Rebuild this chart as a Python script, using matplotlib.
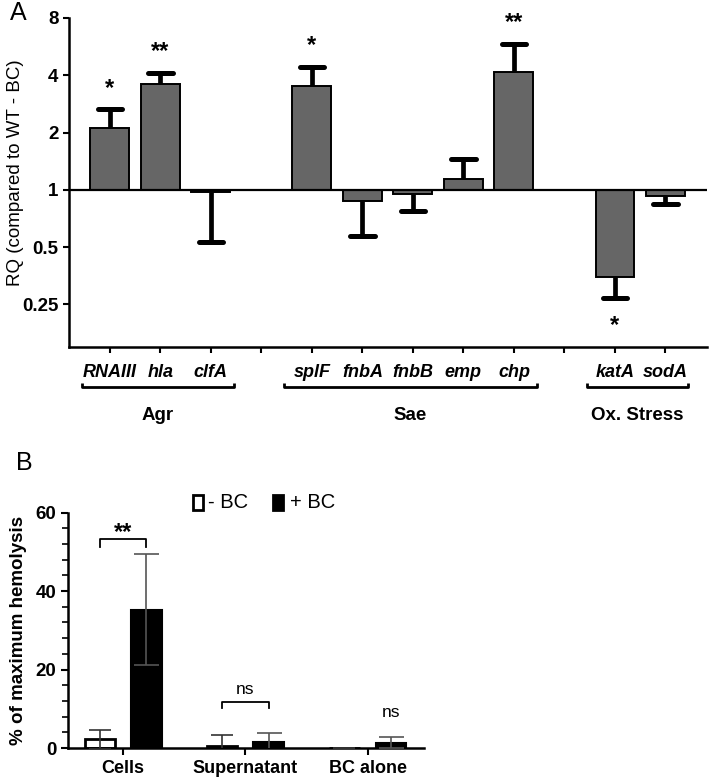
import numpy as np
import matplotlib
matplotlib.use("Agg")
import matplotlib.pyplot as plt
from matplotlib.patches import Rectangle
from matplotlib.ticker import FixedLocator, AutoMinorLocator, NullFormatter

plt.rcParams['font.family'] = ['Liberation Sans', 'DejaVu Sans']

# ---- panel A data: qRT-PCR relative quantity ----
agr_genes = ["RNAIII", "hla", "clfA"]
sae_genes = ["splF", "fnbA", "fnbB", "emp", "chp"]
ox_genes = ["katA", "sodA"]
group_names = ["Agr", "Sae", "Ox. Stress"]
rq_values = [2.11, 3.60, 0.97, 3.52, 0.87, 0.95, 1.14, 4.15, 0.35, 0.93]
rq_errors = [0.54, 0.53, 0.44, 0.92, 0.30, 0.18, 0.31, 1.70, 0.08, 0.09]
rq_signif = ["*", "**", "", "*", "", "", "", "**", "*", ""]
rq_ticks = [0.25, 0.5, 1, 2, 4, 8]

# ---- panel B data: hemolysis ----
hemo_groups = ["Cells", "Supernatant", "BC alone"]
minus_bc = [2.2, 0.5, 0.0]
minus_bc_err = [2.4, 2.9, 0.0]
plus_bc = [35.3, 1.5, 1.35]
plus_bc_err = [14.1, 2.4, 1.35]

fig = plt.figure(figsize=(7.09, 7.77), dpi=100)

# ================= panel A =================
axA = fig.add_axes([0.0973, 0.5538, 0.8997, 0.4231])
groups = [agr_genes, sae_genes, ox_genes]
xpos, genes, group_span = [], [], []
k = 1
for g in groups:
    start = k
    for name in g:
        xpos.append(k)
        genes.append(name)
        k += 1
    group_span.append((start, k - 1))
    k += 1  # gap between groups
xpos = np.array(xpos, dtype=float)
vals = np.array(rq_values)
errs = np.array(rq_errors)

axA.set_yscale('log', base=2)
axA.set_ylim(0.15, 8)
axA.set_xlim(0.19, 12.82)

axA.bar(xpos, vals - 1, bottom=1, width=0.77, color='#666666',
        edgecolor='black', linewidth=1.4, zorder=2)
axA.axhline(1, color='black', lw=1.6, zorder=3)

cap_half = 0.24
for x, v, e, s in zip(xpos, vals, errs, rq_signif):
    end = v + e if v >= 1 else v - e
    axA.plot([x, x], [v, end], color='black', lw=3.4, solid_capstyle='butt', zorder=1)
    axA.plot([x - cap_half, x + cap_half], [end, end], color='black', lw=3.6,
             solid_capstyle='round', zorder=3)
    if s:
        off = 15 if v >= 1 else -20
        axA.annotate(s, (x, end), xytext=(0, off), textcoords='offset points',
                     ha='center', va='center', fontsize=17, fontweight='bold')

axA.yaxis.set_major_locator(FixedLocator(rq_ticks))
axA.yaxis.set_minor_formatter(NullFormatter())
axA.yaxis.set_minor_locator(FixedLocator([]))
axA.set_yticklabels([f"{t:g}" for t in rq_ticks], fontsize=13.5, fontweight='bold')
axA.set_xticks(np.arange(1, 13))
axA.set_xticklabels([])
axA.tick_params(axis='both', direction='out', length=4, width=1.5, color='black')
for side in ['top', 'right']:
    axA.spines[side].set_visible(False)
for side in ['left', 'bottom']:
    axA.spines[side].set_linewidth(1.8)
axA.set_ylabel("RQ (compared to WT - BC)", fontsize=13.5)
axA.yaxis.set_label_coords(-0.071, 0.53)

trA = axA.get_xaxis_transform()
for x, name in zip(xpos, genes):
    axA.text(x, -0.077, name, transform=trA, ha='center', va='center',
             fontsize=13, fontweight='bold', style='italic')
for (a, b), gname in zip(group_span, group_names):
    x0, x1 = a - 0.55, b + 0.45
    axA.plot([x0, x0, x1, x1], [-0.110, -0.122, -0.122, -0.110], color='black',
             lw=2, transform=trA, clip_on=False, solid_capstyle='butt')
    axA.text((x0 + x1) / 2, -0.208, gname, transform=trA, ha='center', va='center',
             fontsize=13.5, fontweight='bold')

fig.text(0.014, 0.983, "A", fontsize=18, ha='left', va='center')

# ================= panel B =================
axB = fig.add_axes([0.0959, 0.0373, 0.502, 0.3029])
xb = np.arange(len(hemo_groups))
off, w = 0.19, 0.25
axB.bar(xb - off, minus_bc, width=w, color='white', edgecolor='black', linewidth=2, zorder=2)
axB.bar(xb + off, plus_bc, width=w, color='black', edgecolor='black', linewidth=1.5, zorder=2)
axB.errorbar(xb - off, minus_bc, yerr=minus_bc_err, fmt='none', ecolor='#333333',
             elinewidth=1.2, capsize=8, capthick=1.2, zorder=3)
axB.errorbar(xb + off, plus_bc, yerr=plus_bc_err, fmt='none', ecolor='#555555',
             elinewidth=1.2, capsize=9, capthick=1.2, zorder=3)

axB.set_xlim(-0.45, 2.46)
axB.set_ylim(0, 60)
axB.set_yticks([0, 20, 40, 60])
axB.yaxis.set_minor_locator(AutoMinorLocator(5))
axB.set_yticklabels(["0", "20", "40", "60"], fontsize=13.5, fontweight='bold')
axB.set_xticks(xb)
axB.set_xticklabels(hemo_groups, fontsize=13, fontweight='bold')
axB.tick_params(axis='both', which='major', direction='out', length=5, width=1.5)
axB.tick_params(axis='y', which='minor', direction='out', length=4, width=1.2)
for side in ['top', 'right']:
    axB.spines[side].set_visible(False)
for side in ['left', 'bottom']:
    axB.spines[side].set_linewidth(1.8)
axB.set_ylabel("% of maximum hemolysis", fontsize=13.5, fontweight='bold', labelpad=6)

# significance brackets
def bracket(ax, x0, x1, y, leg, label, weight, size, dy):
    ax.plot([x0, x0, x1, x1], [y - leg, y, y, y - leg], color='black', lw=1.3,
            clip_on=False)
    ax.text((x0 + x1) / 2, y + dy, label, ha='center', va='center',
            fontsize=size, fontweight=weight)

bracket(axB, xb[0] - off, xb[0] + off, 53.2, 2.0, "**", 'bold', 17, 1.8)
bracket(axB, xb[1] - off, xb[1] + off, 11.7, 1.6, "ns", 'normal', 12.5, 3.1)
axB.text(xb[2] + off, 9.0, "ns", ha='center', va='center', fontsize=12.5)

# legend
for bx, tx, fc, lab in [(0.351, 0.393, 'white', "- BC"), (0.575, 0.624, 'black', "+ BC")]:
    axB.add_patch(Rectangle((bx, 1.013), 0.028, 0.062, transform=axB.transAxes,
                            facecolor=fc, edgecolor='black', lw=2, clip_on=False))
    axB.text(tx, 1.044, lab, transform=axB.transAxes, ha='left', va='center',
             fontsize=14.5)

fig.text(0.022, 0.404, "B", fontsize=18, ha='left', va='center')

fig.savefig("out.png", dpi=100)
